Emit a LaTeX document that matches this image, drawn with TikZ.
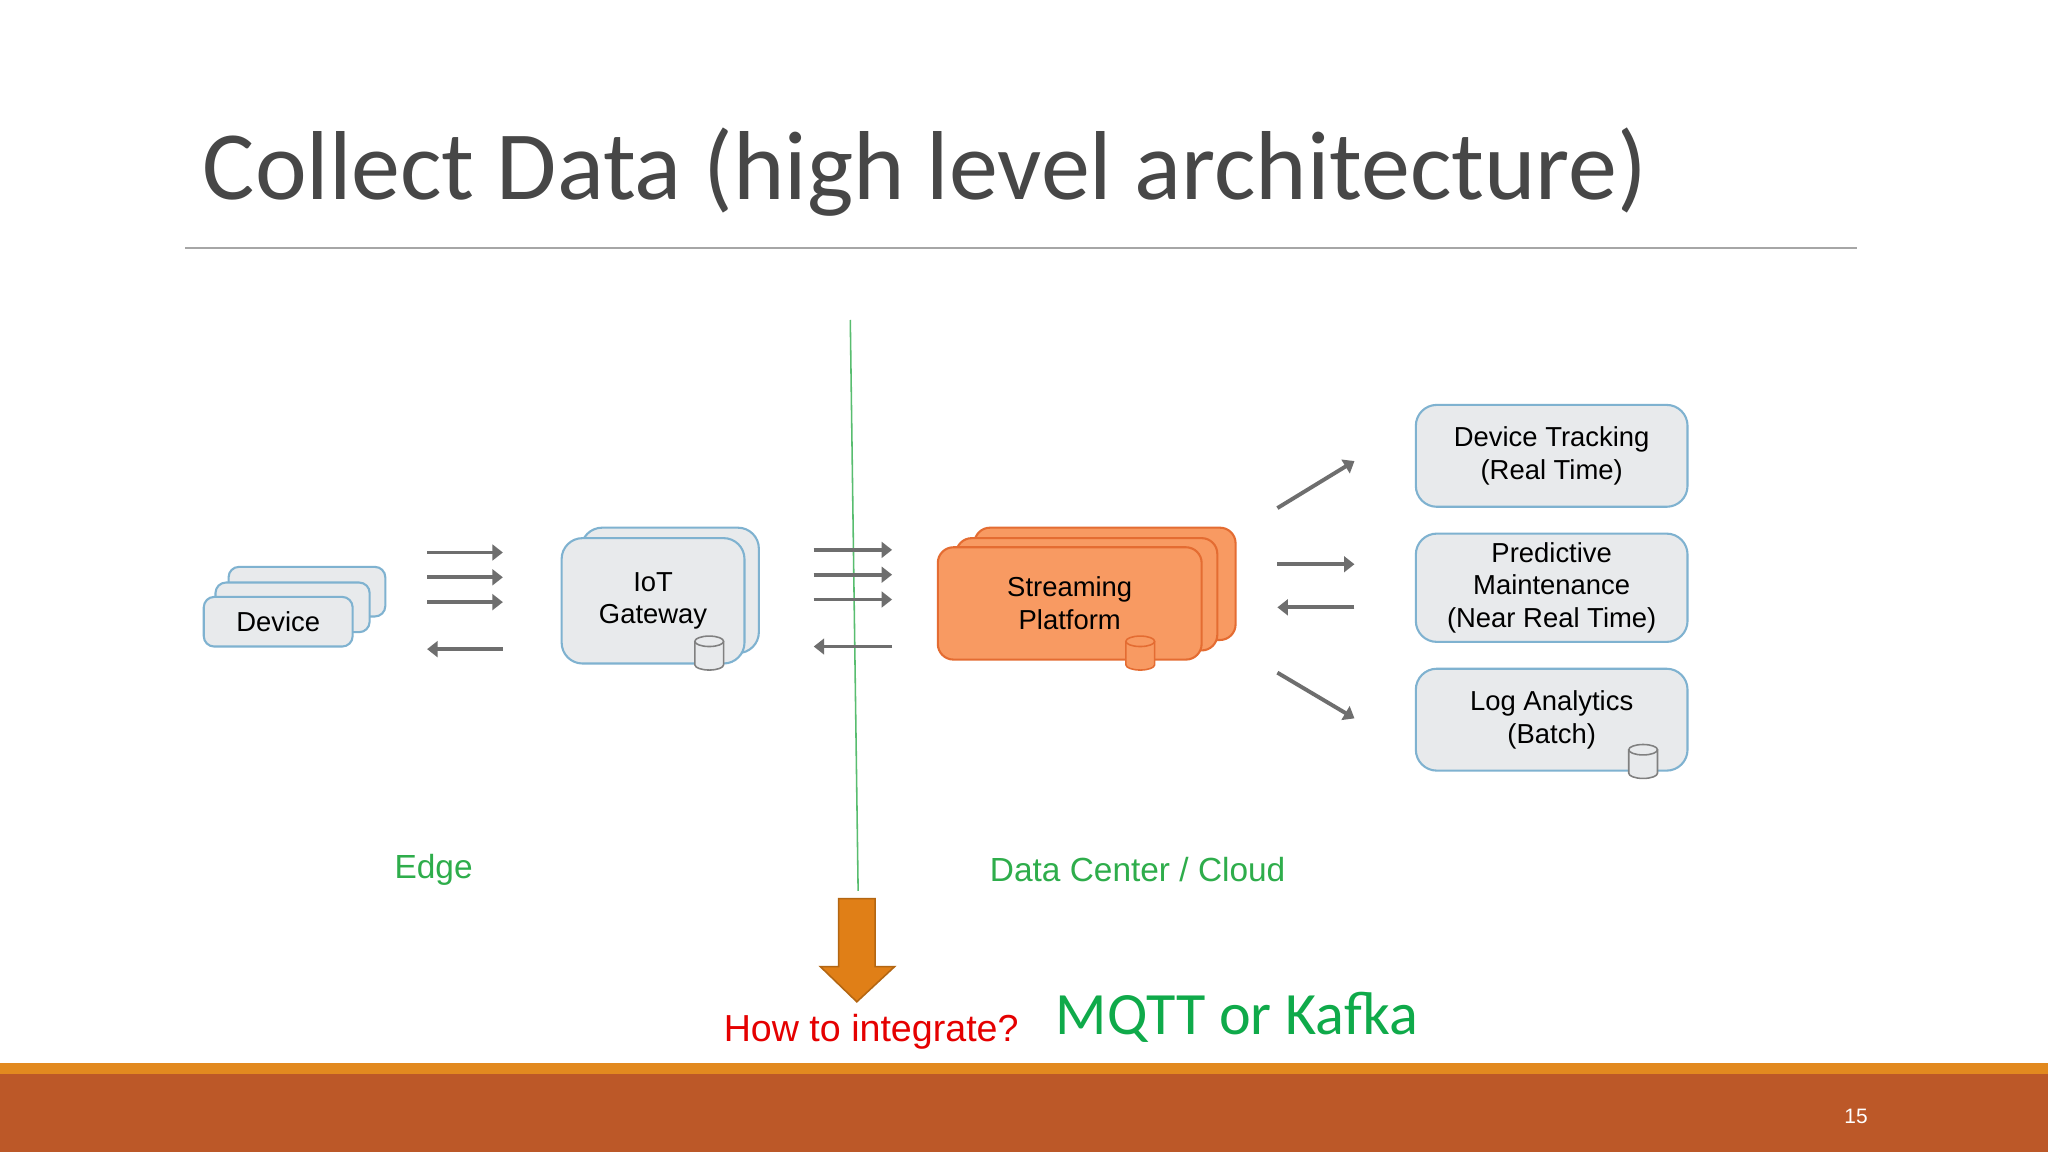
\documentclass[tikz,border=0pt]{standalone}
\usepackage{fontspec}
\setmainfont{Liberation Sans}
\newfontfamily\calib{Carlito}
\usetikzlibrary{arrows.meta}
\definecolor{boxfill}{HTML}{E8EAEC}
\definecolor{boxline}{HTML}{7FB2D0}
\definecolor{orfill}{HTML}{F89A62}
\definecolor{orline}{HTML}{E46C32}
\definecolor{arrgray}{HTML}{6E6E6E}
\definecolor{lblgreen}{HTML}{2EAD4B}
\definecolor{mqgreen}{HTML}{0FAA4A}
\definecolor{barrust}{HTML}{BC5828}
\definecolor{barline}{HTML}{E2891F}
\definecolor{downor}{HTML}{E07F17}
\tikzset{
  box/.style={draw=boxline, fill=boxfill, rounded corners=4pt, line width=0.8pt, font=\fontsize{10.5}{12.5}\selectfont, align=center},
  obox/.style={draw=orline, fill=orfill, rounded corners=6pt, line width=0.8pt, font=\fontsize{10.5}{12.5}\selectfont, align=center},
  flow/.style={draw=arrgray, line width=1.5pt, -{Triangle[length=4pt,width=6pt]}},
  pics/can/.style 2 args={code={
    \fill[#2] (-11,-9) -- (-11,9) arc[start angle=180, end angle=0, x radius=11, y radius=4] -- (11,-9) arc[start angle=0, end angle=-180, x radius=11, y radius=4] -- cycle;
    \draw[#1, line width=0.6pt] (-11,-9) -- (-11,9) arc[start angle=180, end angle=0, x radius=11, y radius=4] -- (11,-9);
    \draw[#1, line width=0.6pt] (0,-9) ellipse[x radius=11, y radius=4];
  }},
}
\begin{document}
\begin{tikzpicture}[x=0.5pt, y=-0.5pt]
\useasboundingbox (0,0) rectangle (1568,882);
\fill[white] (0,0) rectangle (1568,882);
% title
\node[anchor=base west, inner sep=0, font=\calib\fontsize{37.5}{42}\selectfont, text=black!72] (title) at (155,153) {Collect Data (high level architecture)};
\coordinate (rl) at (142,190); \coordinate (rr) at (1422,190);
\draw[gray!70, line width=0.6pt] (rl) -- (rr);
% divider
\coordinate (dt) at (651,245); \coordinate (db) at (657,682);
\draw[lblgreen!80, line width=0.6pt] (dt) -- (db);
% device stack
\node[box, minimum width=60pt, minimum height=19pt] (dev3) at (235,453) {};
\node[box, minimum width=59pt, minimum height=19pt] (dev2) at (224,465) {};
\node[box, minimum width=57pt, minimum height=19pt] (dev) at (213,476) {Device};
% arrows 1
\foreach \y/\n in {423/a1,442/a2,461/a3,497/a4} {
  \coordinate (\n l) at (327,\y); \coordinate (\n r) at (385,\y);
}
\draw[flow] (a1l) -- (a1r); \draw[flow] (a2l) -- (a2r); \draw[flow] (a3l) -- (a3r); \draw[flow] (a4r) -- (a4l);
% gateway
\node[box, rounded corners=8pt, minimum width=68pt, minimum height=48pt] (gw2) at (513,452) {};
\node[box, rounded corners=8pt, minimum width=70pt, minimum height=48pt] (gw) at (500,460) {IoT\\Gateway};
\pic (gwdb) at (543,500) {can={gray}{boxfill}};
% arrows 2
\foreach \y/\n in {421/b1,440/b2,459/b3,495/b4} {
  \coordinate (\n l) at (623,\y); \coordinate (\n r) at (683,\y);
}
\draw[flow] (b1l) -- (b1r); \draw[flow] (b2l) -- (b2r); \draw[flow] (b3l) -- (b3r); \draw[flow] (b4r) -- (b4l);
% streaming platform
\node[obox, minimum width=100pt, minimum height=43pt] (sp3) at (846,447) {};
\node[obox, minimum width=100pt, minimum height=43pt] (sp2) at (832,455) {};
\node[obox, minimum width=101pt, minimum height=43pt] (sp) at (819,462) {Streaming\\Platform};
\pic (spdb) at (873,500) {can={orline}{orfill}};
% right boxes
\node[box, rounded corners=8pt, minimum width=104pt, minimum height=39pt] (dt1) at (1188,349) {Device Tracking\\(Real Time)};
\node[box, rounded corners=8pt, minimum width=104pt, minimum height=39pt] (pm) at (1188,450) {Predictive\\Maintenance\\(Near Real Time)};
\node[box, rounded corners=8pt, minimum width=104pt, minimum height=39pt] (la) at (1188,551) {Log Analytics\\(Batch)};
\pic (ladb) at (1258,583) {can={gray}{boxfill}};
\coordinate (c1s) at (978,389); \coordinate (c1e) at (1037,353);
\coordinate (c2s) at (978,432); \coordinate (c2e) at (1037,432);
\coordinate (c3s) at (1037,465); \coordinate (c3e) at (978,465);
\coordinate (c4s) at (978,515); \coordinate (c4e) at (1037,550);
\draw[flow] (c1s) -- (c1e); \draw[flow] (c2s) -- (c2e); \draw[flow] (c3s) -- (c3e); \draw[flow] (c4s) -- (c4e);
% labels
\node[text=lblgreen, font=\fontsize{12.8}{15}\selectfont] (edge) at (332,666) {Edge};
\node[text=lblgreen, font=\fontsize{12.8}{15}\selectfont] (dc) at (871,666) {Data Center / Cloud};
% down arrow
\draw[draw=downor!80!black, fill=downor, line width=0.6pt] (642,688) -- (670,688) -- (670,740) -- (685,740) -- (656,767) -- (628,740) -- (642,740) -- cycle;
\node[text=red!90!black, font=\fontsize{14.4}{17}\selectfont] (how) at (667,790) {How to integrate?};
\node[text=mqgreen, font=\calib\fontsize{23}{27}\selectfont] (mq) at (947,779) {MQTT or Kafka};
% footer
\fill[barline] (0,814) rectangle (1568,823);
\fill[barrust] (0,822) rectangle (1568,882);
\node[text=white, font=\fontsize{8}{10}\selectfont] (pg) at (1421,855) {15};
\end{tikzpicture}
\end{document}
